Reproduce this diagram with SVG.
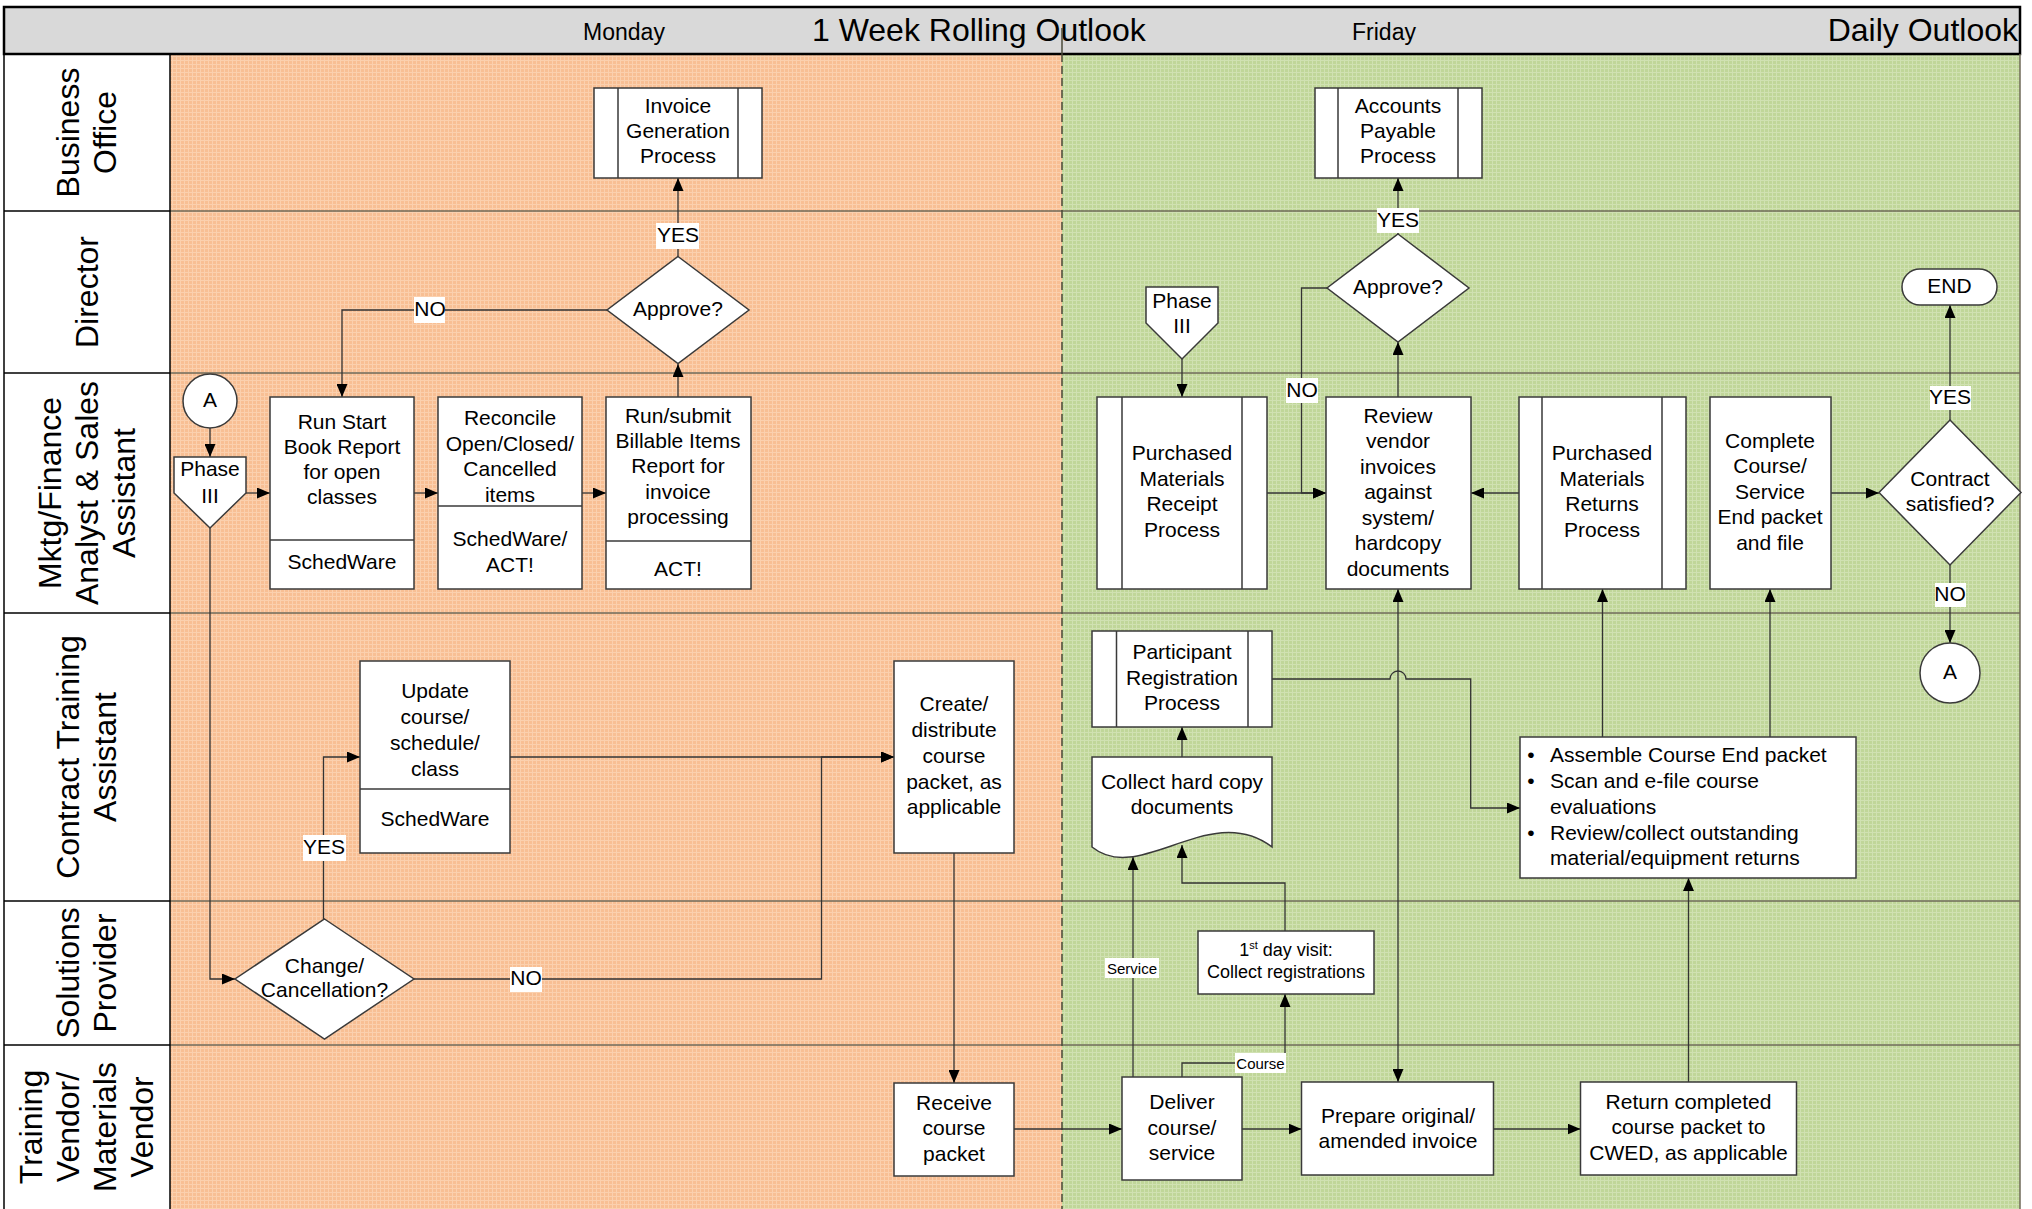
<svg xmlns="http://www.w3.org/2000/svg" width="2032" height="1209" viewBox="0 0 2032 1209">
  <defs>
    <pattern id="gridOrange" width="4" height="4" patternUnits="userSpaceOnUse">
      <rect width="4" height="4" fill="#f8bf94"/>
      <path d="M0 0.5H4M0.5 0V4" stroke="#fbd0ae" stroke-width="1"/>
    </pattern>
    <pattern id="gridGreen" width="4" height="4" patternUnits="userSpaceOnUse">
      <rect width="4" height="4" fill="#c0d699"/>
      <path d="M0 0.5H4M0.5 0V4" stroke="#d0e1b2" stroke-width="1"/>
    </pattern>
    <marker id="arrow" viewBox="0 0 13 11" refX="13" refY="5.5" markerWidth="13" markerHeight="11" markerUnits="userSpaceOnUse" orient="auto-start-reverse">
      <path d="M0 0L13 5.5L0 11Z" fill="#000"/>
    </marker>
    <style>
      .t { font-family: "Liberation Sans", Arial, sans-serif; font-size: 21px; fill: #000; text-anchor: middle; transform: translateY(-1.3px); }
      .lt { font-family: "Liberation Sans", Arial, sans-serif; font-size: 21px; fill: #000; transform: translateY(-1.3px); }
      .lane { font-family: "Liberation Sans", Arial, sans-serif; font-size: 32px; fill: #000; text-anchor: middle; }
      .hd { font-family: "Liberation Sans", Arial, sans-serif; font-size: 23px; fill: #000; text-anchor: middle; }
      .ttl { font-family: "Liberation Sans", Arial, sans-serif; font-size: 32px; fill: #000; }
      .sm { font-family: "Liberation Sans", Arial, sans-serif; font-size: 15px; fill: #000; text-anchor: middle; }
      .box { fill: #fff; stroke: #3a3a3a; stroke-width: 1.5; }
      .div { fill: none; stroke: #3a3a3a; stroke-width: 1.5; }
      .ln { fill: none; stroke: #333; stroke-width: 1.3; }
      .arr { fill: none; stroke: #333; stroke-width: 1.3; marker-end: url(#arrow); }
      .lbl { fill: #fff; }
      .sep { stroke: #6f6a58; stroke-width: 1.5; }
      .colsep { stroke: #000; stroke-width: 1.5; }
    </style>
  </defs>

  <!-- lane backgrounds -->
  <rect x="170" y="54" width="892" height="1155" fill="url(#gridOrange)"/>
  <rect x="1062" y="54" width="958" height="1155" fill="url(#gridGreen)"/>
  <rect x="4" y="54" width="166" height="1155" fill="#fff"/>

  <!-- header band -->
  <rect x="4" y="7" width="2016" height="47" fill="#d9d9d9" stroke="#000" stroke-width="2.5"/>
  <text class="hd" x="624" y="40">Monday</text>
  <text class="ttl" x="812" y="40.5">1 Week Rolling Outlook</text>
  <text class="hd" x="1384" y="40">Friday</text>
  <text class="ttl" x="2018" y="40.5" text-anchor="end">Daily Outlook</text>

  <!-- lane separators -->
  <g id="lanes">
    <line class="sep" x1="170" y1="211" x2="2020" y2="211"/>
    <line class="sep" x1="170" y1="373" x2="2020" y2="373"/>
    <line class="sep" x1="170" y1="613" x2="2020" y2="613"/>
    <line class="sep" x1="170" y1="901" x2="2020" y2="901"/>
    <line class="sep" x1="170" y1="1045" x2="2020" y2="1045"/>
    <line class="sep" x1="2020" y1="54" x2="2020" y2="1209"/>
    <line class="colsep" x1="4" y1="54" x2="4" y2="1209"/>
    <line class="colsep" x1="170" y1="54" x2="170" y2="1209"/>
    <line class="colsep" x1="4" y1="211" x2="170" y2="211"/>
    <line class="colsep" x1="4" y1="373" x2="170" y2="373"/>
    <line class="colsep" x1="4" y1="613" x2="170" y2="613"/>
    <line class="colsep" x1="4" y1="901" x2="170" y2="901"/>
    <line class="colsep" x1="4" y1="1045" x2="170" y2="1045"/>
    <line x1="1062" y1="28" x2="1062" y2="54" stroke="#4a4a3a" stroke-width="1.5"/>
    <line x1="1062" y1="54" x2="1062" y2="1209" stroke="#4a4a3a" stroke-width="1.5" stroke-dasharray="8 4"/>
  </g>

  <!-- lane titles -->
  <g id="lane-titles">
    <text class="lane" transform="translate(79,132.5) rotate(-90)">Business</text>
    <text class="lane" transform="translate(116,132.5) rotate(-90)">Office</text>
    <text class="lane" transform="translate(97.5,292) rotate(-90)">Director</text>
    <text class="lane" transform="translate(60.5,493) rotate(-90)">Mktg/Finance</text>
    <text class="lane" transform="translate(97.5,493) rotate(-90)">Analyst &amp; Sales</text>
    <text class="lane" transform="translate(134.5,493) rotate(-90)">Assistant</text>
    <text class="lane" transform="translate(79,757) rotate(-90)">Contract Training</text>
    <text class="lane" transform="translate(116,757) rotate(-90)">Assistant</text>
    <text class="lane" transform="translate(79,973) rotate(-90)">Solutions</text>
    <text class="lane" transform="translate(116,973) rotate(-90)">Provider</text>
    <text class="lane" transform="translate(42,1127) rotate(-90)">Training</text>
    <text class="lane" transform="translate(79,1127) rotate(-90)">Vendor/</text>
    <text class="lane" transform="translate(116,1127) rotate(-90)">Materials</text>
    <text class="lane" transform="translate(153,1127) rotate(-90)">Vendor</text>
  </g>

  <!-- connectors -->
  <g id="connectors">
    <path class="arr" d="M678 257V178"/>
    <path class="arr" d="M607 310H342V397"/>
    <path class="arr" d="M678 397V364"/>
    <path class="arr" d="M210 428V457"/>
    <path class="arr" d="M246 493H270"/>
    <path class="arr" d="M414 493H438"/>
    <path class="arr" d="M582 493H606"/>
    <path class="arr" d="M210 528V979H235"/>
    <path class="arr" d="M323.5 919V757H360"/>
    <path class="arr" d="M414 979H821.5V757H894"/>
    <path class="arr" d="M510 757H894"/>
    <path class="arr" d="M954 853V1083"/>
    <path class="arr" d="M1014 1129H1122"/>
    <path class="arr" d="M1242 1129H1301.5"/>
    <path class="arr" d="M1494 1129H1580.5"/>
    <path class="arr" d="M1688.5 1082V878"/>
    <path class="arr" d="M1602.5 737V589"/>
    <path class="arr" d="M1770 737V589"/>
    <path class="arr" d="M1831 493H1879"/>
    <path class="arr" d="M1950 420V305"/>
    <path class="arr" d="M1950 565V643"/>
    <path class="arr" d="M1519 493H1471"/>
    <path class="arr" d="M1267 493H1326"/>
    <path class="arr" d="M1327 288H1301.5V493H1326"/>
    <path class="arr" d="M1398 397V342"/>
    <path class="arr" d="M1398 234V178"/>
    <path class="arr" d="M1182 359V397"/>
    <path class="arr" d="M1398 1082V589" style="marker-start:url(#arrow)"/>
    <path class="arr" d="M1272 679H1390A8 8 0 0 1 1406 679H1470.7V808H1520"/>
    <path class="arr" d="M1182 757V727"/>
    <path class="arr" d="M1133 1077V857"/>
    <path class="arr" d="M1285 931V883H1182V845"/>
    <path class="arr" d="M1182 1077V1063H1285V994"/>

    <!-- connector labels -->
    <rect class="lbl" x="656" y="223" width="43" height="26"/>
    <text class="t" x="678" y="243.5">YES</text>
    <rect class="lbl" x="414" y="297" width="31" height="26"/>
    <text class="t" x="430" y="317.5">NO</text>
    <rect class="lbl" x="1377" y="208" width="42" height="25"/>
    <text class="t" x="1398" y="228">YES</text>
    <rect class="lbl" x="1286" y="378" width="32" height="25"/>
    <text class="t" x="1302" y="398">NO</text>
    <rect class="lbl" x="1930" y="386" width="41" height="24"/>
    <text class="t" x="1950" y="405">YES</text>
    <rect class="lbl" x="1935" y="583" width="31" height="24"/>
    <text class="t" x="1950" y="602.5">NO</text>
    <rect class="lbl" x="303" y="835" width="43" height="26"/>
    <text class="t" x="324" y="855.5">YES</text>
    <rect class="lbl" x="510" y="967" width="32" height="25"/>
    <text class="t" x="526" y="986.5">NO</text>
    <rect class="lbl" x="1105" y="958" width="54" height="20"/>
    <text class="sm" x="1132" y="973.5">Service</text>
    <rect class="lbl" x="1235" y="1053" width="51" height="20"/>
    <text class="sm" x="1260.5" y="1068.5">Course</text>
  </g>

  <!-- Business Office -->
  <g id="invoice-generation">
    <rect class="box" x="594" y="88" width="168" height="90"/>
    <path class="div" d="M618 88V178M738 88V178"/>
    <text class="t" x="678" y="114.5">Invoice</text>
    <text class="t" x="678" y="139.5">Generation</text>
    <text class="t" x="678" y="164.5">Process</text>
  </g>
  <g id="accounts-payable">
    <rect class="box" x="1315" y="88" width="167" height="90"/>
    <path class="div" d="M1338 88V178M1458 88V178"/>
    <text class="t" x="1398" y="114.5">Accounts</text>
    <text class="t" x="1398" y="139.5">Payable</text>
    <text class="t" x="1398" y="164.5">Process</text>
  </g>

  <!-- Director -->
  <g id="approve-1">
    <path class="box" d="M678 256.5L749 310L678 363.5L607 310Z"/>
    <text class="t" x="678" y="317">Approve?</text>
  </g>
  <g id="approve-2">
    <path class="box" d="M1398 234L1469 288L1398 342L1327 288Z"/>
    <text class="t" x="1398" y="295">Approve?</text>
  </g>
  <g id="phase-3-b">
    <path class="box" d="M1146 287H1218V323L1182 359L1146 323Z"/>
    <text class="t" x="1182" y="309.5">Phase</text>
    <text class="t" x="1182" y="334.5">III</text>
  </g>
  <g id="end">
    <rect class="box" x="1902" y="269" width="95" height="36" rx="18"/>
    <text class="t" x="1949.5" y="294.5">END</text>
  </g>

  <!-- Mktg/Finance Analyst & Sales Assistant -->
  <g id="connector-a-1">
    <circle class="box" cx="210" cy="401" r="27"/>
    <text class="t" x="210" y="408.5">A</text>
  </g>
  <g id="phase-3-a">
    <path class="box" d="M174 457H246V493L210 528L174 493Z"/>
    <text class="t" x="210" y="477.5">Phase</text>
    <text class="t" x="210" y="504.5">III</text>
  </g>
  <g id="run-start-book">
    <rect class="box" x="270" y="397" width="144" height="192"/>
    <path class="div" d="M270 540H414"/>
    <text class="t" x="342" y="430">Run Start</text>
    <text class="t" x="342" y="455.5">Book Report</text>
    <text class="t" x="342" y="480.5">for open</text>
    <text class="t" x="342" y="505.5">classes</text>
    <text class="t" x="342" y="570.5">SchedWare</text>
  </g>
  <g id="reconcile">
    <rect class="box" x="438" y="397" width="144" height="192"/>
    <path class="div" d="M438 506H582"/>
    <text class="t" x="510" y="426.5">Reconcile</text>
    <text class="t" x="510" y="452">Open/Closed/</text>
    <text class="t" x="510" y="477.5">Cancelled</text>
    <text class="t" x="510" y="503">items</text>
    <text class="t" x="510" y="547.5">SchedWare/</text>
    <text class="t" x="510" y="573.5">ACT!</text>
  </g>
  <g id="run-submit-billable">
    <rect class="box" x="606" y="397" width="145" height="192"/>
    <path class="div" d="M606 541H751"/>
    <text class="t" x="678" y="424">Run/submit</text>
    <text class="t" x="678" y="449">Billable Items</text>
    <text class="t" x="678" y="474.5">Report for</text>
    <text class="t" x="678" y="500">invoice</text>
    <text class="t" x="678" y="525.5">processing</text>
    <text class="t" x="678" y="577.5">ACT!</text>
  </g>
  <g id="materials-receipt">
    <rect class="box" x="1097" y="397" width="170" height="192"/>
    <path class="div" d="M1122 397V589M1242 397V589"/>
    <text class="t" x="1182" y="461.5">Purchased</text>
    <text class="t" x="1182" y="487">Materials</text>
    <text class="t" x="1182" y="512.5">Receipt</text>
    <text class="t" x="1182" y="538.5">Process</text>
  </g>
  <g id="review-invoices">
    <rect class="box" x="1326" y="397" width="145" height="192"/>
    <text class="t" x="1398" y="424">Review</text>
    <text class="t" x="1398" y="449.5">vendor</text>
    <text class="t" x="1398" y="475">invoices</text>
    <text class="t" x="1398" y="500.5">against</text>
    <text class="t" x="1398" y="526">system/</text>
    <text class="t" x="1398" y="551.5">hardcopy</text>
    <text class="t" x="1398" y="577">documents</text>
  </g>
  <g id="materials-returns">
    <rect class="box" x="1519" y="397" width="167" height="192"/>
    <path class="div" d="M1542 397V589M1662 397V589"/>
    <text class="t" x="1602" y="461.5">Purchased</text>
    <text class="t" x="1602" y="487">Materials</text>
    <text class="t" x="1602" y="512.5">Returns</text>
    <text class="t" x="1602" y="538.5">Process</text>
  </g>
  <g id="complete-course-end">
    <rect class="box" x="1710" y="397" width="121" height="192"/>
    <text class="t" x="1770" y="449">Complete</text>
    <text class="t" x="1770" y="474.5">Course/</text>
    <text class="t" x="1770" y="500">Service</text>
    <text class="t" x="1770" y="525.5">End packet</text>
    <text class="t" x="1770" y="551">and file</text>
  </g>
  <g id="contract-satisfied">
    <path class="box" d="M1950 420L2021 492.5L1950 565L1879 492.5Z"/>
    <text class="t" x="1950" y="487.5">Contract</text>
    <text class="t" x="1950" y="512.5">satisfied?</text>
  </g>

  <!-- Contract Training Assistant -->
  <g id="update-course">
    <rect class="box" x="360" y="661" width="150" height="192"/>
    <path class="div" d="M360 789H510"/>
    <text class="t" x="435" y="699.5">Update</text>
    <text class="t" x="435" y="725.5">course/</text>
    <text class="t" x="435" y="751.5">schedule/</text>
    <text class="t" x="435" y="777.5">class</text>
    <text class="t" x="435" y="827.5">SchedWare</text>
  </g>
  <g id="create-packet">
    <rect class="box" x="894" y="661" width="120" height="192"/>
    <text class="t" x="954" y="712.5">Create/</text>
    <text class="t" x="954" y="738.5">distribute</text>
    <text class="t" x="954" y="764">course</text>
    <text class="t" x="954" y="790">packet, as</text>
    <text class="t" x="954" y="815.5">applicable</text>
  </g>
  <g id="participant-registration">
    <rect class="box" x="1092" y="631" width="180" height="96"/>
    <path class="div" d="M1116.5 631V727M1248 631V727"/>
    <text class="t" x="1182" y="660.5">Participant</text>
    <text class="t" x="1182" y="686">Registration</text>
    <text class="t" x="1182" y="711.5">Process</text>
  </g>
  <g id="collect-hard-copy">
    <path class="box" d="M1092 757H1272V847C1210 800 1140 886 1092 847Z"/>
    <text class="t" x="1182" y="790">Collect hard copy</text>
    <text class="t" x="1182" y="815">documents</text>
  </g>
  <g id="course-end-tasks">
    <rect class="box" x="1520" y="737" width="336" height="141"/>
    <text class="t" x="1531" y="763.5">•</text>
    <text class="lt" x="1550" y="763.5">Assemble Course End packet</text>
    <text class="t" x="1531" y="789">•</text>
    <text class="lt" x="1550" y="789">Scan and e-file course</text>
    <text class="lt" x="1550" y="815.5">evaluations</text>
    <text class="t" x="1531" y="841">•</text>
    <text class="lt" x="1550" y="841">Review/collect outstanding</text>
    <text class="lt" x="1550" y="866.5">material/equipment returns</text>
  </g>
  <g id="connector-a-2">
    <circle class="box" cx="1950" cy="673" r="30"/>
    <text class="t" x="1950" y="680.5">A</text>
  </g>

  <!-- Solutions Provider -->
  <g id="change-cancellation">
    <path class="box" d="M324.5 919L414 979L324.5 1039L235 979Z"/>
    <text class="t" x="324.5" y="974">Change/</text>
    <text class="t" x="324.5" y="998.5">Cancellation?</text>
  </g>
  <g id="first-day-visit">
    <rect class="box" x="1198" y="931" width="176" height="63"/>
    <text class="t" x="1286" y="957.5" style="font-size:18px">1<tspan dy="-7" style="font-size:11px">st</tspan><tspan dy="7"> day visit:</tspan></text>
    <text class="t" x="1286" y="979" style="font-size:18px">Collect registrations</text>
  </g>

  <!-- Training Vendor / Materials Vendor -->
  <g id="receive-packet">
    <rect class="box" x="894" y="1083" width="120" height="93"/>
    <text class="t" x="954" y="1111.5">Receive</text>
    <text class="t" x="954" y="1136.5">course</text>
    <text class="t" x="954" y="1162.5">packet</text>
  </g>
  <g id="deliver-course">
    <rect class="box" x="1122" y="1077" width="120" height="103"/>
    <text class="t" x="1182" y="1110">Deliver</text>
    <text class="t" x="1182" y="1136">course/</text>
    <text class="t" x="1182" y="1161.5">service</text>
  </g>
  <g id="prepare-invoice">
    <rect class="box" x="1301.5" y="1082" width="192" height="93"/>
    <text class="t" x="1398" y="1124">Prepare original/</text>
    <text class="t" x="1398" y="1149">amended invoice</text>
  </g>
  <g id="return-packet">
    <rect class="box" x="1580.5" y="1082" width="216" height="93"/>
    <text class="t" x="1688.5" y="1110.5">Return completed</text>
    <text class="t" x="1688.5" y="1135.5">course packet to</text>
    <text class="t" x="1688.5" y="1161.5">CWED, as applicable</text>
  </g>
</svg>
